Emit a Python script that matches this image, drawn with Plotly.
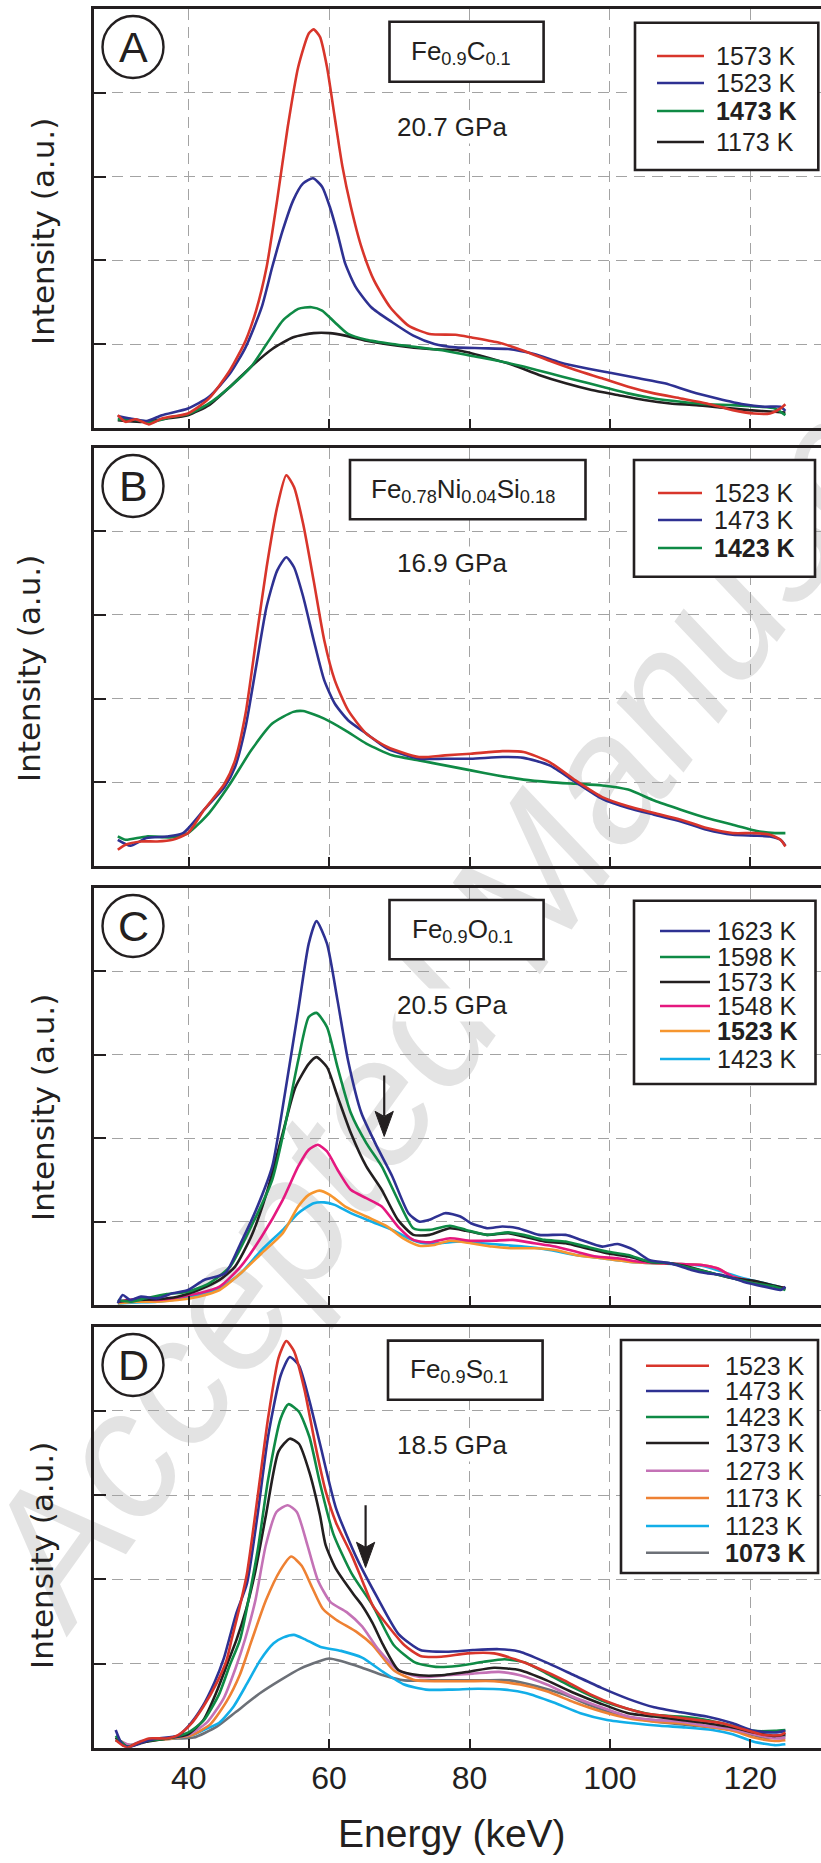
import plotly.graph_objects as go

W, H = 821, 1863

# ------------------------------------------------------------------ data
ENERGY_TICKS = [40, 60, 80, 100, 120]
ENERGY_TICK_TEXT = ["40", "60", "80", "100", "120"]
INTENSITY_TICKS = [1, 2, 3, 4]

# Panel A : Fe0.9C0.1, 20.7 GPa   (energy keV, intensity a.u.)
A_1573 = [(29.9,0.15),(31.0,0.07),(32.5,0.10),(34.3,0.04),(36.2,0.11),(39.9,0.17),(42.9,0.35),(45.9,0.69),(48.1,1.04),(49.6,1.40),(51.1,1.92),(52.6,2.72),(54.1,3.59),(55.6,4.31),(57.1,4.71),(57.8,4.76),(58.7,4.67),(59.7,4.31),(60.8,3.71),(61.9,3.12),(63.1,2.64),(64.6,2.16),(66.4,1.76),(68.7,1.44),(71.3,1.22),(74.3,1.12),(78.0,1.11),(80.2,1.08),(84.0,1.02),(87.7,0.92),(91.4,0.80),(95.1,0.69),(98.9,0.59),(102.6,0.49),(106.3,0.41),(110.1,0.35),(113.8,0.29),(117.5,0.21),(120.5,0.17),(122.8,0.17),(124.3,0.23),(125.0,0.28)]
A_1523 = [(29.9,0.14),(31.7,0.11),(34.0,0.08),(36.2,0.15),(39.9,0.23),(42.9,0.37),(45.9,0.65),(48.1,0.96),(50.4,1.44),(51.9,1.92),(53.4,2.36),(54.9,2.72),(56.3,2.92),(57.7,2.98),(59.0,2.88),(60.1,2.64),(61.2,2.32),(62.3,1.96),(63.8,1.68),(66.0,1.44),(69.0,1.26),(72.0,1.10),(75.0,1.00),(78.0,0.96),(81.7,0.95),(85.5,0.94),(89.2,0.88),(92.9,0.78),(96.6,0.71),(100.4,0.65),(104.1,0.59),(107.8,0.53),(111.6,0.43),(115.3,0.35),(119.0,0.28),(122.0,0.25),(124.3,0.25),(125.0,0.20)]
A_1473 = [(29.9,0.10),(31.7,0.10),(34.7,0.07),(37.7,0.13),(39.9,0.16),(42.9,0.29),(45.9,0.49),(48.9,0.73),(51.1,1.00),(53.4,1.28),(55.6,1.42),(57.5,1.44),(59.0,1.40),(60.8,1.26),(62.7,1.12),(65.3,1.05),(69.0,1.00),(72.8,0.96),(76.5,0.92),(80.2,0.86),(84.0,0.80),(87.7,0.73),(91.4,0.65),(95.1,0.57),(98.9,0.49),(102.6,0.41),(106.3,0.35),(110.1,0.31),(113.8,0.28),(117.5,0.27),(121.3,0.25),(123.5,0.23),(125.0,0.15)]
A_1173 = [(29.9,0.09),(33.2,0.07),(36.9,0.11),(39.9,0.15),(42.9,0.27),(45.9,0.49),(48.9,0.73),(51.9,0.94),(54.9,1.08),(57.8,1.13),(60.1,1.13),(62.3,1.10),(65.3,1.04),(69.8,0.98),(74.3,0.94),(78.7,0.92),(82.5,0.84),(86.2,0.75),(89.9,0.63),(93.7,0.53),(97.4,0.45),(101.1,0.39),(104.9,0.33),(108.6,0.29),(112.3,0.27),(116.0,0.24),(119.8,0.21),(123.5,0.19),(125.0,0.18)]

# Panel B : Fe0.78Ni0.04Si0.18, 16.9 GPa
B_1523 = [(29.9,0.19),(31.0,0.25),(33.2,0.29),(35.5,0.29),(37.7,0.31),(39.9,0.39),(42.2,0.67),(45.1,0.98),(46.6,1.26),(48.1,1.82),(49.6,2.70),(51.1,3.57),(52.6,4.29),(53.9,4.67),(55.0,4.53),(56.3,4.09),(57.8,3.41),(59.3,2.70),(60.8,2.22),(62.7,1.86),(65.3,1.58),(68.3,1.42),(72.8,1.30),(76.5,1.32),(80.2,1.34),(84.7,1.37),(87.7,1.36),(91.4,1.24),(95.1,1.02),(98.9,0.82),(102.6,0.71),(106.3,0.63),(110.1,0.55),(113.8,0.45),(117.5,0.39),(120.5,0.39),(122.8,0.37),(124.3,0.31),(125.0,0.23)]
B_1473 = [(29.9,0.31),(31.7,0.24),(34.0,0.33),(36.9,0.35),(39.2,0.39),(42.2,0.67),(45.1,0.94),(46.6,1.18),(48.1,1.66),(49.6,2.38),(51.1,3.10),(52.6,3.53),(53.9,3.69),(55.0,3.57),(56.3,3.22),(57.8,2.70),(59.3,2.22),(60.8,1.94),(62.7,1.74),(65.3,1.58),(68.3,1.40),(72.8,1.28),(76.5,1.28),(80.2,1.28),(84.7,1.30),(87.7,1.29),(91.4,1.20),(95.1,1.00),(98.9,0.80),(102.6,0.69),(106.3,0.61),(110.1,0.53),(113.8,0.43),(117.5,0.37),(120.5,0.36),(122.8,0.35),(124.3,0.31),(125.0,0.24)]
B_1423 = [(29.9,0.35),(31.0,0.31),(34.0,0.35),(37.7,0.34),(39.9,0.39),(42.9,0.63),(45.9,0.98),(48.9,1.38),(51.9,1.70),(54.9,1.84),(56.3,1.85),(59.3,1.76),(62.3,1.62),(65.3,1.46),(69.0,1.32),(72.8,1.26),(76.5,1.20),(80.2,1.14),(84.0,1.08),(87.7,1.03),(91.4,1.00),(95.1,0.98),(98.9,0.96),(102.6,0.91),(106.3,0.78),(110.1,0.67),(113.8,0.57),(117.5,0.49),(121.3,0.41),(123.5,0.39),(125.0,0.39)]

# Panel C : Fe0.9O0.1, 20.5 GPa
C_1623 = [(29.9,0.02),(30.6,0.12),(31.7,0.06),(33.2,0.10),(35.5,0.08),(37.7,0.14),(39.9,0.18),(42.2,0.30),(45.2,0.38),(47.4,0.74),(49.6,1.14),(51.9,1.66),(53.7,2.53),(55.6,3.53),(57.1,4.33),(58.2,4.60),(59.7,4.33),(61.2,3.65),(62.7,2.93),(64.6,2.30),(66.8,1.90),(69.0,1.54),(71.3,1.10),(72.8,1.00),(74.3,1.02),(76.5,1.10),(78.7,1.06),(80.2,0.98),(82.5,0.92),(84.7,0.94),(86.9,0.92),(89.9,0.84),(93.7,0.84),(95.9,0.78),(98.9,0.70),(101.1,0.73),(103.4,0.66),(105.6,0.54),(108.6,0.50),(111.6,0.42),(113.8,0.38),(116.0,0.36),(119.0,0.28),(122.0,0.22),(124.3,0.18),(125.0,0.22)]
C_1598 = [(29.9,0.06),(31.7,0.04),(33.9,0.08),(36.9,0.13),(39.9,0.16),(42.9,0.26),(45.9,0.46),(48.9,0.94),(51.9,1.50),(53.7,2.14),(55.6,2.93),(57.1,3.45),(58.2,3.50),(59.7,3.33),(61.2,2.85),(63.1,2.30),(65.3,1.94),(67.5,1.66),(69.8,1.26),(72.0,0.92),(74.3,0.90),(77.2,0.95),(79.5,0.90),(82.5,0.84),(85.5,0.87),(87.7,0.84),(90.7,0.78),(93.7,0.76),(96.6,0.70),(99.6,0.64),(102.6,0.60),(105.6,0.52),(108.6,0.50),(111.6,0.44),(114.6,0.38),(117.5,0.32),(120.5,0.26),(123.5,0.22),(125.0,0.18)]
C_1573 = [(29.9,0.04),(32.5,0.06),(35.5,0.07),(38.4,0.10),(41.4,0.18),(44.4,0.30),(46.6,0.46),(48.9,0.82),(51.1,1.34),(53.4,2.06),(55.2,2.61),(57.1,2.89),(58.2,2.97),(59.7,2.85),(61.2,2.50),(63.1,2.06),(65.3,1.66),(67.5,1.38),(69.8,1.02),(72.0,0.84),(74.3,0.84),(77.2,0.92),(79.5,0.89),(82.5,0.84),(85.5,0.86),(87.7,0.82),(90.7,0.76),(93.7,0.74),(96.6,0.68),(99.6,0.62),(102.6,0.58),(105.6,0.52),(108.6,0.50),(111.6,0.45),(114.6,0.38),(117.5,0.32),(120.5,0.29),(123.5,0.23),(125.0,0.20)]
C_1548 = [(29.9,0.04),(32.5,0.07),(35.5,0.06),(38.4,0.09),(41.4,0.14),(44.4,0.22),(47.4,0.46),(50.4,0.82),(53.4,1.26),(55.6,1.66),(57.1,1.86),(58.4,1.92),(59.7,1.84),(61.2,1.62),(63.1,1.38),(65.3,1.28),(67.5,1.18),(69.8,0.94),(72.0,0.78),(74.3,0.75),(77.2,0.80),(80.2,0.77),(83.2,0.77),(86.2,0.78),(89.2,0.74),(92.2,0.70),(95.1,0.64),(98.1,0.58),(101.1,0.56),(104.1,0.52),(107.1,0.50),(110.1,0.49),(113.1,0.48),(115.3,0.44),(117.5,0.34),(120.5,0.28),(123.5,0.22),(125.0,0.20)]
C_1523 = [(29.9,0.02),(32.5,0.04),(35.5,0.04),(38.4,0.06),(41.4,0.10),(44.4,0.18),(47.4,0.38),(50.4,0.62),(53.4,0.86),(55.6,1.18),(57.1,1.32),(58.6,1.37),(60.1,1.32),(62.3,1.18),(65.3,1.06),(68.3,0.94),(70.5,0.80),(72.8,0.71),(75.0,0.72),(77.2,0.77),(80.2,0.74),(83.2,0.70),(86.2,0.68),(89.2,0.68),(92.2,0.66),(95.1,0.60),(98.9,0.56),(102.6,0.52),(106.3,0.50),(110.1,0.49),(113.1,0.48),(115.3,0.44),(117.5,0.34),(120.5,0.28),(123.5,0.22),(125.0,0.20)]
C_1423 = [(29.9,0.02),(32.5,0.03),(35.5,0.04),(38.4,0.07),(41.4,0.12),(44.4,0.20),(47.4,0.38),(50.4,0.66),(53.4,0.90),(55.6,1.10),(57.8,1.22),(59.3,1.23),(60.8,1.20),(63.1,1.10),(66.0,1.00),(69.0,0.90),(71.3,0.80),(73.5,0.74),(75.7,0.74),(78.7,0.76),(81.7,0.74),(84.7,0.72),(87.7,0.70),(91.4,0.66),(95.1,0.60),(98.9,0.56),(102.6,0.52),(106.3,0.50),(110.1,0.49),(113.1,0.47),(116.0,0.40),(119.0,0.32),(122.0,0.26),(125.0,0.20)]

# Panel D : Fe0.9S0.1, 18.5 GPa
D_1523 = [(29.6,0.09),(30.2,0.05),(31.3,0.00),(32.5,0.05),(34.3,0.11),(36.9,0.11),(38.5,0.15),(40.2,0.27),(42.1,0.49),(44.0,0.77),(45.4,1.04),(46.1,1.28),(47.2,1.65),(48.3,2.07),(49.8,2.97),(51.3,3.91),(52.8,4.63),(53.9,4.83),(55.0,4.71),(56.5,4.25),(58.0,3.61),(59.5,3.05),(61.0,2.67),(63.2,2.29),(64.7,1.99),(66.2,1.69),(67.7,1.52),(70.7,1.22),(73.0,1.09),(76.0,1.08),(79.7,1.12),(83.5,1.12),(86.5,1.05),(89.6,0.95),(93.5,0.80),(97.3,0.63),(101.1,0.50),(104.9,0.41),(108.6,0.37),(112.3,0.33),(116.0,0.29),(119.0,0.22),(122.0,0.15),(124.3,0.15),(125.0,0.18)]
D_1473 = [(29.6,0.21),(30.6,0.03),(31.7,0.01),(33.2,0.06),(35.5,0.11),(38.4,0.14),(40.0,0.26),(41.9,0.48),(43.7,0.78),(45.0,1.06),(45.8,1.30),(46.8,1.60),(48.3,1.95),(49.8,2.76),(51.3,3.69),(53.1,4.42),(54.4,4.64),(55.7,4.54),(57.2,4.12),(58.7,3.61),(61.0,2.84),(64.0,2.24),(66.9,1.78),(69.9,1.35),(73.0,1.16),(76.7,1.14),(80.5,1.16),(84.2,1.17),(87.2,1.14),(91.0,1.01),(94.9,0.86),(98.8,0.71),(102.6,0.58),(106.3,0.48),(110.1,0.42),(113.8,0.37),(117.5,0.29),(120.5,0.20),(123.5,0.18),(125.0,0.20)]
D_1423 = [(29.6,0.14),(31.3,0.01),(33.2,0.07),(36.9,0.11),(39.9,0.18),(42.1,0.32),(44.3,0.63),(45.9,0.99),(47.3,1.28),(49.8,2.33),(51.3,3.18),(53.1,3.91),(54.2,4.08),(55.7,3.99),(57.2,3.69),(58.7,3.14),(60.6,2.54),(63.2,2.07),(66.2,1.69),(69.2,1.22),(72.3,1.01),(75.2,0.96),(78.2,0.97),(82.0,1.02),(85.0,1.05),(88.0,1.01),(91.0,0.88),(94.9,0.71),(98.8,0.56),(102.6,0.46),(106.3,0.39),(110.1,0.37),(113.8,0.33),(117.5,0.26),(120.5,0.20),(123.5,0.20),(125.0,0.21)]
D_1373 = [(29.6,0.12),(31.3,0.01),(33.2,0.06),(36.9,0.11),(39.9,0.16),(42.1,0.33),(44.0,0.67),(45.7,1.04),(46.8,1.28),(48.2,1.65),(49.5,2.10),(51.0,2.76),(52.8,3.52),(54.4,3.67),(55.7,3.61),(57.2,3.27),(58.7,2.76),(59.5,2.41),(61.0,2.12),(63.5,1.82),(64.7,1.69),(66.2,1.48),(67.7,1.22),(69.9,0.92),(72.9,0.86),(76.0,0.86),(79.7,0.90),(83.5,0.95),(87.2,0.92),(91.0,0.80),(94.9,0.65),(98.8,0.52),(102.6,0.41),(106.3,0.37),(110.1,0.33),(113.8,0.29),(117.5,0.24),(120.5,0.18),(123.5,0.14),(125.0,0.16)]
D_1273 = [(29.6,0.11),(31.7,0.03),(33.2,0.08),(36.9,0.11),(39.9,0.15),(42.6,0.30),(45.0,0.59),(46.7,0.95),(48.0,1.28),(49.5,1.75),(51.0,2.41),(52.5,2.80),(54.1,2.88),(55.4,2.80),(56.9,2.41),(58.4,1.99),(60.2,1.73),(62.5,1.61),(64.7,1.44),(66.9,1.18),(69.9,0.92),(72.9,0.84),(76.7,0.86),(80.5,0.88),(84.2,0.90),(87.2,0.86),(91.0,0.75),(94.9,0.60),(98.8,0.48),(102.6,0.37),(106.3,0.33),(110.1,0.31),(113.8,0.26),(117.5,0.22),(120.5,0.16),(123.5,0.11),(125.0,0.12)]
D_1173 = [(29.6,0.09),(31.7,0.03),(34.0,0.08),(37.7,0.11),(40.5,0.15),(43.1,0.28),(45.4,0.55),(47.3,0.87),(49.0,1.28),(51.0,1.75),(53.0,2.10),(54.6,2.27),(56.1,2.16),(57.6,1.90),(59.1,1.65),(61.0,1.52),(64.0,1.37),(66.2,1.22),(69.2,0.92),(72.3,0.80),(76.0,0.79),(79.7,0.79),(83.5,0.79),(87.2,0.75),(91.0,0.67),(94.9,0.54),(98.8,0.43),(102.6,0.35),(106.3,0.31),(110.1,0.29),(113.8,0.25),(117.5,0.20),(120.5,0.12),(123.5,0.08),(125.0,0.09)]
D_1123 = [(29.6,0.09),(31.7,0.03),(34.7,0.11),(37.7,0.11),(40.5,0.15),(42.1,0.21),(44.4,0.30),(46.4,0.49),(48.3,0.76),(50.2,1.04),(52.1,1.24),(53.5,1.31),(55.0,1.34),(56.5,1.29),(58.7,1.20),(61.7,1.15),(64.7,1.07),(67.7,0.90),(70.7,0.75),(73.8,0.69),(77.5,0.69),(81.2,0.70),(85.0,0.69),(88.0,0.65),(91.9,0.54),(95.8,0.41),(99.6,0.33),(103.4,0.29),(107.1,0.26),(110.8,0.24),(114.6,0.21),(117.5,0.16),(120.5,0.07),(123.5,0.03),(125.0,0.04)]
D_1073 = [(29.6,0.09),(31.7,0.02),(34.7,0.09),(38.4,0.11),(40.7,0.12),(44.0,0.25),(46.8,0.43),(50.2,0.65),(53.0,0.80),(55.9,0.94),(58.7,1.03),(60.0,1.06),(61.7,1.03),(64.7,0.95),(67.7,0.86),(70.7,0.80),(74.5,0.80),(78.2,0.80),(82.0,0.80),(85.7,0.80),(89.6,0.73),(93.5,0.63),(97.3,0.50),(101.1,0.39),(104.9,0.33),(108.6,0.29),(112.3,0.26),(116.0,0.23),(119.0,0.18),(122.0,0.12),(125.0,0.14)]

# arrow markers (energy keV, from intensity, to intensity)
C_ARROW = (67.85, 2.75, 2.02)
D_ARROW = (65.2, 2.88, 2.14)

# ------------------------------------------------------------------ style
INK = "#231f20"
GRID = "#a3a3a3"
RED, BLUE, GREEN, BLACK = "#d8352b", "#2e3192", "#0f8a45", "#231f20"
MAGENTA, ORANGE_C, CYAN = "#e5187f", "#f6962f", "#12aee8"
VIOLET, ORANGE_D, GRAY = "#c472b6", "#ee8133", "#6c7077"
MAIN_FONT = "Liberation Sans, Arial, sans-serif"
YT_FONT = "DejaVu Sans, Verdana, sans-serif"

panels = [
    dict(letter="A", formula="Fe<sub>0.9</sub>C<sub>0.1</sub>", pressure="20.7 GPa",
         series=[("1573 K", A_1573, RED, False), ("1523 K", A_1523, BLUE, False),
                 ("1473 K", A_1473, GREEN, True), ("1173 K", A_1173, BLACK, False)],
         top=9.3, bottom=427.7, circle_y=47, ytitle=(43, 232),
         fbox=(389.5, 21.7, 543.6, 81.7), fat=(461, 52), pat=(452, 127),
         lbox=(635, 22.7, 818.3, 170), lline=(657, 704), ltx=714, lrows=[56, 83, 111, 142]),
    dict(letter="B", formula="Fe<sub>0.78</sub>Ni<sub>0.04</sub>Si<sub>0.18</sub>", pressure="16.9 GPa",
         series=[("1523 K", B_1523, RED, False), ("1473 K", B_1473, BLUE, False),
                 ("1423 K", B_1423, GREEN, True)],
         top=447.7, bottom=865.7, circle_y=486, ytitle=(29, 669),
         fbox=(350, 460, 585.5, 519.3), fat=(463, 490), pat=(452, 563),
         lbox=(634, 460, 815, 576.7), lline=(658, 702), ltx=712, lrows=[493, 520, 548]),
    dict(letter="C", formula="Fe<sub>0.9</sub>O<sub>0.1</sub>", pressure="20.5 GPa",
         series=[("1623 K", C_1623, BLUE, False), ("1598 K", C_1598, GREEN, False),
                 ("1573 K", C_1573, BLACK, False), ("1548 K", C_1548, MAGENTA, False),
                 ("1523 K", C_1523, ORANGE_C, True), ("1423 K", C_1423, CYAN, False)],
         top=887.7, bottom=1305.0, circle_y=926, ytitle=(43, 1108),
         fbox=(389.5, 900, 543.6, 959.3), fat=(462, 930), pat=(452, 1005),
         lbox=(634, 900.7, 815.5, 1084), lline=(660, 710), ltx=715,
         lrows=[931, 957, 982, 1006, 1031, 1059], arrow=C_ARROW),
    dict(letter="D", formula="Fe<sub>0.9</sub>S<sub>0.1</sub>", pressure="18.5 GPa",
         series=[("1523 K", D_1523, RED, False), ("1473 K", D_1473, BLUE, False),
                 ("1423 K", D_1423, GREEN, False), ("1373 K", D_1373, BLACK, False),
                 ("1273 K", D_1273, VIOLET, False), ("1173 K", D_1173, ORANGE_D, False),
                 ("1123 K", D_1123, CYAN, False), ("1073 K", D_1073, GRAY, True)],
         top=1326.7, bottom=1747.7, circle_y=1365, ytitle=(42, 1556),
         fbox=(388, 1340.6, 542.6, 1399.8), fat=(459, 1370), pat=(452, 1445),
         lbox=(621, 1340, 818, 1573), lline=(646, 709), ltx=723,
         lrows=[1365.7, 1391, 1417, 1443, 1470.7, 1498, 1526, 1552.7], arrow=D_ARROW),
]

PLOT_LEFT = 94.0
X40_PX, X120_PX = 188.7, 750.3
KEV_PER_PX = 80.0 / (X120_PX - X40_PX)
X_RANGE = [40 - (X40_PX - PLOT_LEFT) * KEV_PER_PX, 40 + (W - X40_PX) * KEV_PER_PX]


def fx(px):
    return px / W


def fy(py):
    return 1 - py / H


fig = go.Figure()
shapes, annotations = [], []
layout = dict(width=W, height=H, margin=dict(l=0, r=0, t=0, b=0),
              paper_bgcolor="white", plot_bgcolor="rgba(0,0,0,0)",
              showlegend=False, hovermode=False)

for k, p in enumerate(panels):
    sfx = "" if k == 0 else str(k + 1)
    xa, ya = "x" + sfx, "y" + sfx
    # traces (first legend entry drawn on top)
    for name, data, color, bold in reversed(p["series"]):
        fig.add_trace(go.Scatter(
            x=[d[0] for d in data], y=[d[1] for d in data], mode="lines", name=name,
            line=dict(color=color, width=2.6, shape="spline", smoothing=0.6),
            xaxis=xa, yaxis=ya, hoverinfo="skip"))
    last = k == len(panels) - 1
    layout["xaxis" + sfx] = dict(
        domain=[fx(PLOT_LEFT), 1.0], range=X_RANGE, anchor=ya,
        tickvals=ENERGY_TICKS, ticktext=ENERGY_TICK_TEXT, showticklabels=last,
        ticks="inside", ticklen=9, tickwidth=2.4, tickcolor=INK,
        showline=True, linecolor=INK, linewidth=2.6, mirror=True,
        showgrid=True, gridcolor=GRID, gridwidth=1.3, griddash="11px,7px",
        zeroline=False, tickfont=dict(family=MAIN_FONT, size=32, color=INK))
    layout["yaxis" + sfx] = dict(
        domain=[fy(p["bottom"]), fy(p["top"])], range=[0, 5], anchor=xa,
        tickvals=INTENSITY_TICKS, showticklabels=False,
        ticks="inside", ticklen=12, tickwidth=2.4, tickcolor=INK,
        showline=True, linecolor=INK, linewidth=2.6, mirror=False,
        showgrid=True, gridcolor=GRID, gridwidth=1.3, griddash="11px,7px",
        zeroline=False)

    # panel letter in circle
    cy = p["circle_y"]
    shapes.append(dict(type="circle", xref="paper", yref="paper",
                       x0=fx(133 - 30.5), x1=fx(133 + 30.5), y0=fy(cy + 31), y1=fy(cy - 31),
                       line=dict(color=INK, width=2.4), fillcolor="white"))
    annotations.append(dict(text=p["letter"], x=fx(133), y=fy(cy), xref="paper", yref="paper",
                            showarrow=False, xanchor="center", yanchor="middle",
                            font=dict(family=MAIN_FONT, size=43, color=INK)))
    # composition box
    b = p["fbox"]
    shapes.append(dict(type="rect", xref="paper", yref="paper",
                       x0=fx(b[0]), x1=fx(b[2]), y0=fy(b[3]), y1=fy(b[1]),
                       line=dict(color=INK, width=2.6), fillcolor="white"))
    annotations.append(dict(text=p["formula"], x=fx(p["fat"][0]), y=fy(p["fat"][1]),
                            xref="paper", yref="paper", showarrow=False,
                            xanchor="center", yanchor="middle",
                            font=dict(family=MAIN_FONT, size=26, color=INK)))
    # pressure
    annotations.append(dict(text=p["pressure"], x=fx(p["pat"][0]), y=fy(p["pat"][1]),
                            xref="paper", yref="paper", showarrow=False,
                            xanchor="center", yanchor="middle", bgcolor="white",
                            font=dict(family=MAIN_FONT, size=26, color=INK)))
    # y title
    annotations.append(dict(text="Intensity (a.u.)", x=fx(p["ytitle"][0]), y=fy(p["ytitle"][1]),
                            xref="paper", yref="paper", showarrow=False, textangle=-90,
                            xanchor="center", yanchor="middle",
                            font=dict(family=YT_FONT, size=31, color=INK)))
    # legend box
    lb = p["lbox"]
    shapes.append(dict(type="rect", xref="paper", yref="paper",
                       x0=fx(lb[0]), x1=fx(lb[2]), y0=fy(lb[3]), y1=fy(lb[1]),
                       line=dict(color=INK, width=2.6), fillcolor="white"))
    for (name, data, color, bold), ry in zip(p["series"], p["lrows"]):
        shapes.append(dict(type="line", xref="paper", yref="paper",
                           x0=fx(p["lline"][0]), x1=fx(p["lline"][1]), y0=fy(ry), y1=fy(ry),
                           line=dict(color=color, width=2.6)))
        annotations.append(dict(text=f"<b>{name}</b>" if bold else name,
                                x=fx(p["ltx"]), y=fy(ry), xref="paper", yref="paper",
                                showarrow=False, xanchor="left", yanchor="middle",
                                font=dict(family=MAIN_FONT, size=25, color=INK)))
    # arrow
    if "arrow" in p:
        ex, i0, i1 = p["arrow"]
        head = 0.30
        shapes.append(dict(type="line", xref=xa, yref=ya, x0=ex, x1=ex, y0=i0, y1=i1 + head * 0.8,
                           line=dict(color=INK, width=2.2)))
        hw = 1.3
        shapes.append(dict(type="path", xref=xa, yref=ya,
                           path=f"M {ex},{i1} L {ex - hw},{i1 + head} L {ex},{i1 + head * 0.8} L {ex + hw},{i1 + head} Z",
                           fillcolor=INK, line=dict(color=INK, width=1)))

# x-axis title
annotations.append(dict(text="Energy (keV)", x=fx(452), y=fy(1833), xref="paper", yref="paper",
                        showarrow=False, xanchor="center", yanchor="middle",
                        font=dict(family=MAIN_FONT, size=39, color=INK)))

# watermark, below everything
shapes.insert(0, dict(type="rect", xref="paper", yref="paper", layer="below",
                      x0=fx(485), x1=fx(505), y0=fy(910), y1=fy(890),
                      line=dict(width=0), fillcolor="rgba(0,0,0,0)",
                      label=dict(text="Accepted Manuscript", textangle=-54.5,
                                 textposition="middle center",
                                 font=dict(family=MAIN_FONT, size=180, color="#e3e3e3",
                                           style="italic"))))

layout["shapes"] = shapes
layout["annotations"] = annotations
fig.update_layout(**layout)
fig.write_html("out.html")
